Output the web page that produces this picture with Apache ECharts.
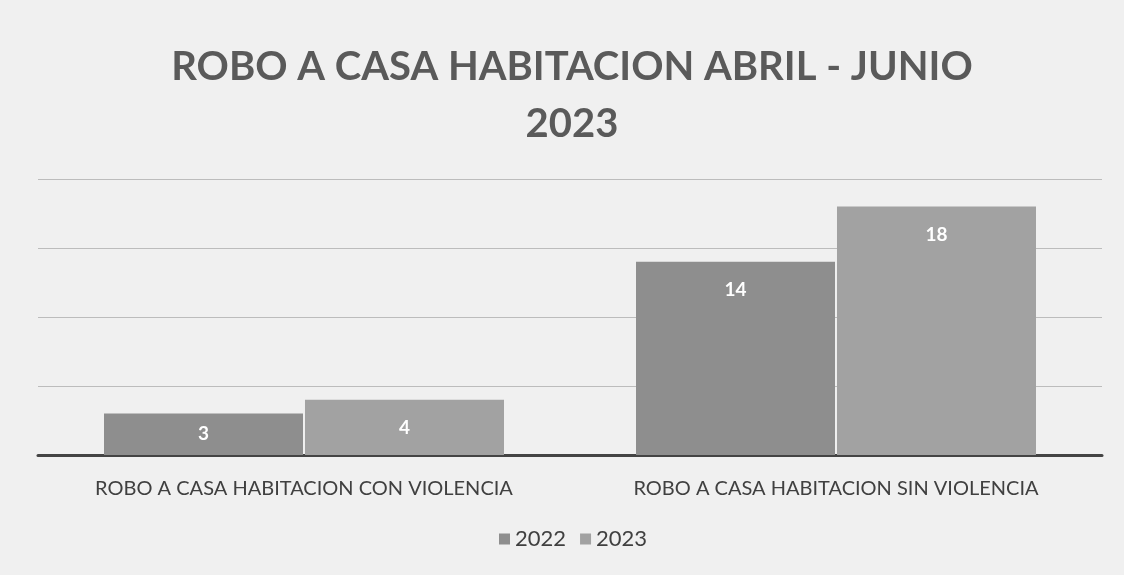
<!DOCTYPE html>
<html><head><meta charset="utf-8">
<script src="https://cdn.jsdelivr.net/npm/echarts@6/dist/echarts.min.js"></script>
<style>html,body{margin:0;padding:0;background:#f0f0f0}#c{width:1124px;height:575px}</style>
</head><body><div id="c"></div>
<script>
const titleText = 'ROBO A CASA HABITACION ABRIL - JUNIO\n2023';
const categories = ['ROBO A CASA HABITACION CON VIOLENCIA', 'ROBO A CASA HABITACION SIN VIOLENCIA'];
const seriesNames = ['2022', '2023'];
const values2022 = [3, 14];
const values2023 = [4, 18];
const colors = ['#8e8e8e', '#a2a2a2'];

const chart = echarts.init(document.getElementById('c'));
// short bars: label is pushed toward the bar centre (as in the reference)
const toData = arr => arr.map(v => v < 4 ? { value: v, label: { position: 'inside' } } : v);
const mk = (name, data, color) => ({
  name, type: 'bar', data: toData(data), barWidth: 199, barGap: '1%',
  itemStyle: { color },
  label: { show: true, position: 'insideTop', distance: 19, color: '#ffffff', fontWeight: 'bold', fontSize: 19, fontFamily: 'Lato' }
});
chart.setOption({
  backgroundColor: '#f0f0f0',
  title: { text: titleText, left: 567, textAlign: 'center', top: 34, textStyle: { fontFamily: 'Lato', fontWeight: 'bold', fontSize: 40, color: '#5a5a5a', lineHeight: 57 } },
  legend: { bottom: 20, left: 494, itemWidth: 11, itemHeight: 11, itemGap: 14, icon: 'rect',
    textStyle: { fontFamily: 'Lato', fontSize: 22, color: '#404040' } },
  grid: { left: 38, right: 22, top: 179, bottom: 120 },
  xAxis: { type: 'category', data: categories,
    axisLine: { lineStyle: { color: '#444', width: 3 } }, axisTick: { show: false },
    axisLabel: { interval: 0, hideOverlap: false, margin: 24, fontFamily: 'Lato', fontSize: 20, color: '#404040' } },
  yAxis: { type: 'value', min: 0, max: 20, interval: 5, axisLabel: { show: false },
    splitLine: { lineStyle: { color: '#bcbcbc', width: 1 } } },
  series: [mk(seriesNames[0], values2022, colors[0]), mk(seriesNames[1], values2023, colors[1])]
});
</script></body></html>
